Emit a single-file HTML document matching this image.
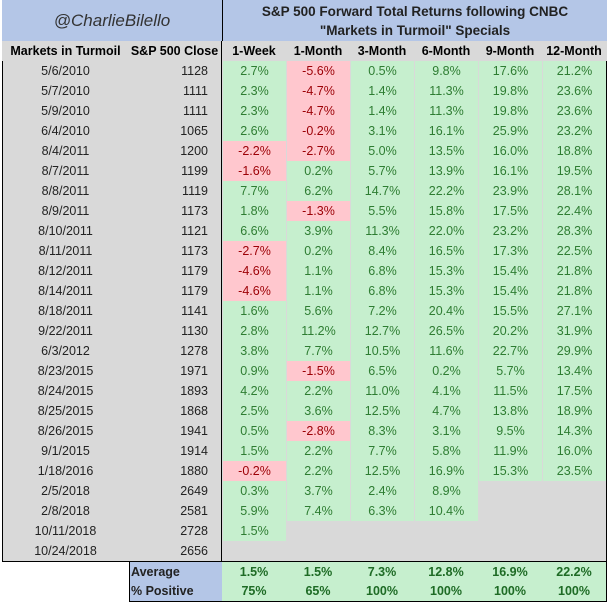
<!DOCTYPE html>
<html><head><meta charset="utf-8"><style>
body{margin:0;background:#fff;width:609px;height:604px;overflow:hidden;font-family:"Liberation Sans",sans-serif;}
#wrap{position:absolute;left:0;top:0;width:609px;height:604px;}
.c{position:absolute;box-sizing:border-box;text-align:center;font-size:12.5px;line-height:20px;height:20px;}
</style></head><body>
<div id="wrap"></div>
<script>
const dates=["5/6/2010","5/7/2010","5/9/2010","6/4/2010","8/4/2011","8/7/2011","8/8/2011","8/9/2011","8/10/2011","8/11/2011","8/12/2011","8/14/2011","8/18/2011","9/22/2011","6/3/2012","8/23/2015","8/24/2015","8/25/2015","8/26/2015","9/1/2015","1/18/2016","2/5/2018","2/8/2018","10/11/2018","10/24/2018"];
const closes=[1128,1111,1111,1065,1200,1199,1119,1173,1121,1173,1179,1179,1141,1130,1278,1971,1893,1868,1941,1914,1880,2649,2581,2728,2656];
const wk1=[2.7,2.3,2.3,2.6,-2.2,-1.6,7.7,1.8,6.6,-2.7,-4.6,-4.6,1.6,2.8,3.8,0.9,4.2,2.5,0.5,1.5,-0.2,0.3,5.9,1.5,null];
const mo1=[-5.6,-4.7,-4.7,-0.2,-2.7,0.2,6.2,-1.3,3.9,0.2,1.1,1.1,5.6,11.2,7.7,-1.5,2.2,3.6,-2.8,2.2,2.2,3.7,7.4,null,null];
const mo3=[0.5,1.4,1.4,3.1,5.0,5.7,14.7,5.5,11.3,8.4,6.8,6.8,7.2,12.7,10.5,6.5,11.0,12.5,8.3,7.7,12.5,2.4,6.3,null,null];
const mo6=[9.8,11.3,11.3,16.1,13.5,13.9,22.2,15.8,22.0,16.5,15.3,15.3,20.4,26.5,11.6,0.2,4.1,4.7,3.1,5.8,16.9,8.9,10.4,null,null];
const mo9=[17.6,19.8,19.8,25.9,16.0,16.1,23.9,17.5,23.2,17.3,15.4,15.4,15.5,20.2,22.7,5.7,11.5,13.8,9.5,11.9,15.3,null,null,null,null];
const mo12=[21.2,23.6,23.6,23.2,18.8,19.5,28.1,22.4,28.3,22.5,21.8,21.8,27.1,31.9,29.9,13.4,17.5,18.9,14.3,16.0,23.5,null,null,null,null];
const headers=["1-Week","1-Month","3-Month","6-Month","9-Month","12-Month"];
const averages=["1.5%","1.5%","7.3%","12.8%","16.9%","22.2%"];
const positives=["75%","65%","100%","100%","100%","100%"];
const series=[wk1,mo1,mo3,mo6,mo9,mo12];
const colX=[222,286,350,414,478,542,606];
const W=document.getElementById('wrap');
function box(x,y,w,h,st,txt){const d=document.createElement('div');d.className='c';d.style.left=x+'px';d.style.top=y+'px';d.style.width=w+'px';d.style.height=h+'px';Object.assign(d.style,st||{});if(txt!=null)d.textContent=txt;W.appendChild(d);return d;}
// header
let e=box(2,0,220,41,{background:'#b4c6e7',fontStyle:'italic',fontSize:'17px',lineHeight:'41px',color:'#333'},'@CharlieBilello');

e=box(222,0,385,41,{background:'#b4c6e7',fontWeight:'bold',fontSize:'13.5px',lineHeight:'19px',paddingTop:'2px',color:'#222',borderLeft:'1px solid #000'});
e.innerHTML='S&amp;P 500 Forward Total Returns following CNBC<br>"Markets in Turmoil" Specials';

box(2,41,605,20,{background:'#d9d9d9'});
e=box(2,41,127,20,{fontWeight:'bold',fontSize:'12.5px'},'Markets in Turmoil');

e=box(127,41,95,20,{fontWeight:'bold',fontSize:'12.5px'},'S&P 500 Close');

headers.forEach((h,i)=>{const d=box(colX[i],41,64,20,{fontWeight:'bold',fontSize:'12.5px'},h);

});
// body background
box(2,61,605,501,{background:'#d9d9d9',border:'1px solid #000',borderTop:'none'});
box(221,41,1,521,{background:'#000'});
const top0=61,rh=20;
dates.forEach((dt,r)=>{const y=top0+r*rh;
 let a=box(2,y,127,rh,{color:'#222'},dt);
 
 
 a=box(127,y,95,rh,{color:'#222',textAlign:'right',paddingRight:'14px'},String(closes[r]));
 
 
 series.forEach((s,i)=>{const v=s[r];if(v==null)return;const neg=v<0;
  const c=box(colX[i]+1,y,63,rh,{background:neg?'#ffc7ce':'#c6efce',color:neg?'#9c0006':'#2e7d32'},v.toFixed(1)+'%');
  
  });
});
// summary
const sy=top0+25*rh;
box(129,sy,478,41,{border:'1px solid #000'});
box(130,sy+1,92,39,{background:'#b4c6e7'});
box(222,sy+1,384,39,{background:'#c6efce'});
e=box(131,sy+1,90,20,{fontWeight:'bold',textAlign:'left',color:'#222'},'Average');

e=box(131,sy+20,90,20,{fontWeight:'bold',textAlign:'left',color:'#222'},'% Positive');

averages.forEach((v,i)=>{const d=box(colX[i],sy+1,64,20,{fontWeight:'bold',color:'#1e6b25'},v);

});
positives.forEach((v,i)=>{const d=box(colX[i],sy+20,64,20,{fontWeight:'bold',color:'#1e6b25'},v);

});
</script>
</body></html>
